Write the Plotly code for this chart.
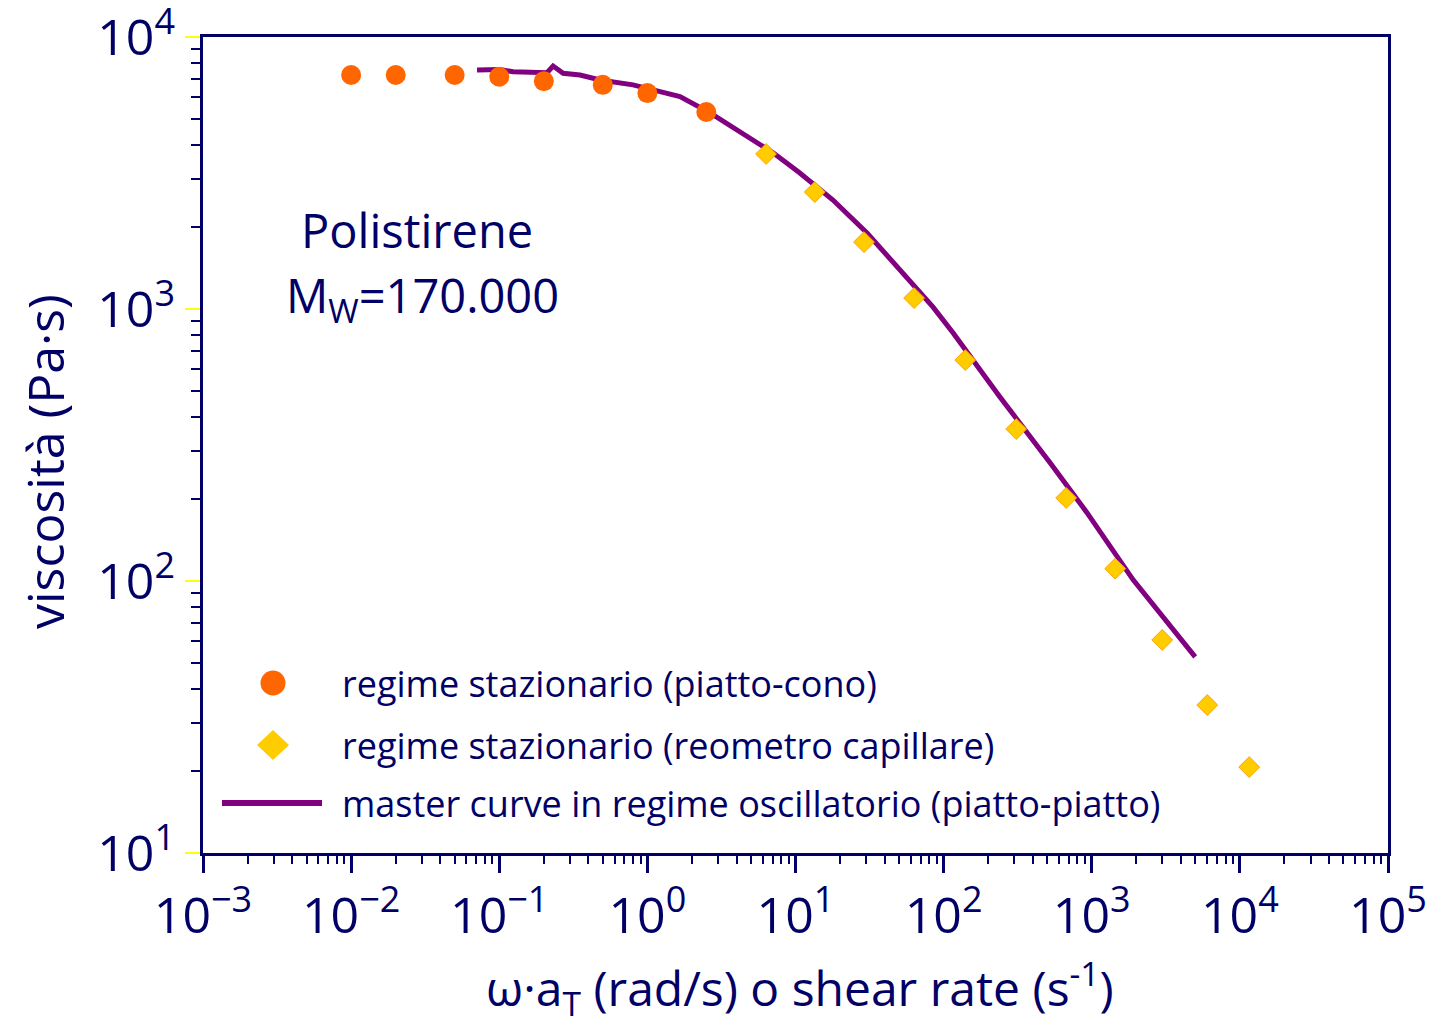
import plotly.graph_objects as go

# Steady shear, cone-plate rheometer
cp_rate = [0.01, 0.02, 0.05, 0.1, 0.2, 0.5, 1.0, 2.5]
cp_visc = [7250, 7250, 7250, 7140, 6880, 6670, 6220, 5300]

# Steady shear, capillary rheometer
cap_rate = [6.33, 13.5, 29.0, 63.2, 140, 309, 672, 1440, 2990, 6020, 11560]
cap_visc = [3715, 2692, 1762, 1097, 649, 362, 202, 111, 60.7, 35.0, 20.7]

# Oscillatory master curve, plate-plate
mc_freq = [0.0708, 0.101, 0.124, 0.210, 0.231, 0.270, 0.351, 0.480, 0.80, 1.66,
           2.65, 4.23, 7.06, 10.7, 17.9, 30.4, 50.8, 84.9, 116, 240, 523, 931,
           1903, 4990]
mc_visc = [7570, 7600, 7450, 7390, 7820, 7360, 7250, 6950, 6670, 6040,
           5260, 4480, 3750, 3163, 2516, 1903, 1390, 1016, 816, 475, 272, 178,
           101, 52.6]

x_exponents = [-3, -2, -1, 0, 1, 2, 3, 4, 5]
y_exponents = [1, 2, 3, 4]

legend_labels = [
    "regime stazionario (piatto-cono)",
    "regime stazionario (reometro capillare)",
    "master curve in regime oscillatorio (piatto-piatto)",
]

NAVY = "#000066"
ORANGE = "#FF6600"
GOLD = "#FFCC00"
PURPLE = "#800080"
FONT = "Open Sans"

W, H = 1446, 1031
ML, MR, MT, MB = 203, 58, 37, 178
PW, PH = W - ML - MR, H - MT - MB


def px(x):
    return (x - ML) / PW


def py(y):
    return (H - MB - y) / PH


def power_label(e):
    s = str(e).replace("-", "−")
    return f"10<sup><span style='font-size:36px'>{s}</span></sup>"


fig = go.Figure()

fig.add_trace(go.Scatter(
    x=mc_freq, y=mc_visc, mode="lines",
    line=dict(color=PURPLE, width=5), showlegend=False))

fig.add_trace(go.Scatter(
    x=cp_rate, y=cp_visc, mode="markers",
    marker=dict(symbol="circle", size=20, color=ORANGE), showlegend=False))

fig.add_trace(go.Scatter(
    x=cap_rate, y=cap_visc, mode="markers",
    marker=dict(symbol="diamond", size=16, color=GOLD,
                line=dict(color="#FFA000", width=1)),
    showlegend=False))

# Hand-drawn legend keys
shapes = [
    dict(type="circle", xref="paper", yref="paper",
         x0=px(260.5), x1=px(285.5), y0=py(695.5), y1=py(670.5),
         fillcolor=ORANGE, line=dict(width=0)),
    dict(type="path", xref="paper", yref="paper",
         path=(f"M {px(273)} {py(730)} L {px(289)} {py(745)} "
               f"L {px(273)} {py(760)} L {px(257)} {py(745)} Z"),
         fillcolor=GOLD, line=dict(width=0)),
    dict(type="line", xref="paper", yref="paper",
         x0=px(222), x1=px(322), y0=py(803), y1=py(803),
         line=dict(color=PURPLE, width=6)),
]

annotations = []
for label, yy in zip(legend_labels, [683, 745, 803]):
    annotations.append(dict(
        text=label, xref="paper", yref="paper", x=px(340), y=py(yy),
        xanchor="left", yanchor="middle", showarrow=False,
        font=dict(family=FONT, size=36, color=NAVY)))

annotations.append(dict(
    text="Polistirene", xref="paper", yref="paper", x=px(417), y=py(230),
    xanchor="center", yanchor="middle", showarrow=False,
    font=dict(family=FONT, size=47, color=NAVY)))
annotations.append(dict(
    text="M<sub>W</sub>=170.000", xref="paper", yref="paper", x=px(422), y=py(298),
    xanchor="center", yanchor="middle", showarrow=False,
    font=dict(family=FONT, size=47, color=NAVY)))

# Axis titles
annotations.append(dict(
    text="ω·a<sub>T</sub> (rad/s) o shear rate (s<sup>-1</sup>)",
    xref="paper", yref="paper", x=px(800), y=py(988),
    xanchor="center", yanchor="middle", showarrow=False,
    font=dict(family=FONT, size=48, color=NAVY)))
annotations.append(dict(
    text="viscosità (Pa·s)", textangle=-90,
    xref="paper", yref="paper", x=px(45), y=py(462),
    xanchor="center", yanchor="middle", showarrow=False,
    font=dict(family=FONT, size=50, color=NAVY)))

fig.update_layout(
    width=W, height=H,
    margin=dict(l=ML, r=MR, t=MT, b=MB, autoexpand=False),
    paper_bgcolor="white", plot_bgcolor="white",
    shapes=shapes, annotations=annotations,
    font=dict(family=FONT, color=NAVY),
)

fig.update_xaxes(
    type="log", range=[-3, 5], automargin=False,
    tickvals=[10.0 ** e for e in x_exponents],
    ticktext=[power_label(e) for e in x_exponents],
    ticklabeloverflow="allow",
    ticks="outside", ticklen=17, tickwidth=3, tickcolor=NAVY,
    minor=dict(ticks="outside", ticklen=8, tickwidth=2, tickcolor=NAVY,
               dtick="D1", showgrid=False),
    showline=True, linewidth=3, linecolor=NAVY, mirror=True,
    showgrid=False, zeroline=False,
    tickfont=dict(family=FONT, size=50, color=NAVY),
)

fig.update_yaxes(
    type="log", range=[1, 4], automargin=False,
    tickvals=[10.0 ** e for e in y_exponents],
    ticktext=[power_label(e) for e in y_exponents],
    ticklabeloverflow="allow",
    ticks="outside", ticklen=15, tickwidth=2, tickcolor="#FFFF00",
    minor=dict(ticks="outside", ticklen=9, tickwidth=2, tickcolor=NAVY,
               dtick="D1", showgrid=False),
    showline=True, linewidth=3, linecolor=NAVY, mirror=True,
    showgrid=False, zeroline=False,
    tickfont=dict(family=FONT, size=50, color=NAVY),
)

fig.write_html("out.html")
